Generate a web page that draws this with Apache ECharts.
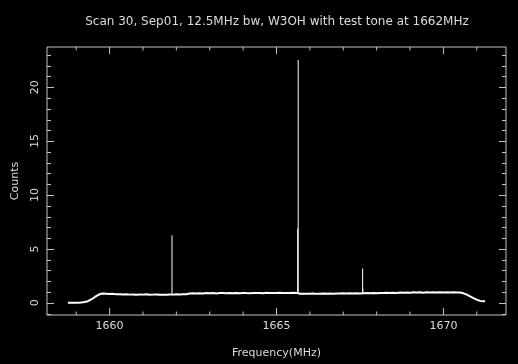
<!DOCTYPE html>
<html>
<head>
<meta charset="utf-8">
<script src="https://cdn.jsdelivr.net/npm/echarts@6/dist/echarts.min.js"></script>
<style>
  html, body { margin: 0; padding: 0; background: #000; }
  #chart { width: 518px; height: 364px; }
</style>
</head>
<body>
<div id="chart"></div>
<script>
// spectrum baseline (MHz, counts)
var freq = [
  1658.75, 1658.85, 1658.95, 1659.05, 1659.15, 1659.25, 1659.35, 1659.45, 1659.55, 1659.65, 1659.72, 1659.80,
  1659.9, 1660.0, 1660.1, 1660.2, 1660.3, 1660.4, 1660.5, 1660.6, 1660.7, 1660.8, 1660.9,
  1661.0, 1661.1, 1661.2, 1661.3, 1661.4, 1661.5, 1661.6, 1661.7, 1661.8, 1661.9,
  1662.0, 1662.1, 1662.2, 1662.3, 1662.4, 1662.5, 1662.6, 1662.7, 1662.8, 1662.9,
  1663.0, 1663.1, 1663.2, 1663.3, 1663.4, 1663.5, 1663.6, 1663.7, 1663.8, 1663.9,
  1664.0, 1664.1, 1664.2, 1664.3, 1664.4, 1664.5, 1664.6, 1664.7, 1664.8, 1664.9,
  1665.0, 1665.1, 1665.2, 1665.3, 1665.4, 1665.5, 1665.6, 1665.7, 1665.8, 1665.9,
  1666.0, 1666.1, 1666.2, 1666.3, 1666.4, 1666.5, 1666.6, 1666.7, 1666.8, 1666.9,
  1667.0, 1667.1, 1667.2, 1667.3, 1667.4, 1667.5, 1667.6, 1667.7, 1667.8, 1667.9,
  1668.0, 1668.1, 1668.2, 1668.3, 1668.4, 1668.5, 1668.6, 1668.7, 1668.8, 1668.9,
  1669.0, 1669.1, 1669.2, 1669.3, 1669.4, 1669.5, 1669.6, 1669.7, 1669.8, 1669.9,
  1670.0, 1670.1, 1670.2, 1670.3, 1670.4, 1670.5,
  1670.6, 1670.7, 1670.8, 1670.9, 1671.0, 1671.1, 1671.18, 1671.25
];
var counts = [
  0.00, 0.00, 0.01, 0.01, 0.03, 0.07, 0.15, 0.31, 0.52, 0.72, 0.82, 0.86,
  0.84, 0.81, 0.83, 0.79, 0.80, 0.78, 0.80, 0.76, 0.78, 0.75, 0.77,
  0.76, 0.79, 0.74, 0.76, 0.77, 0.74, 0.76, 0.75, 0.77, 0.76,
  0.79, 0.78, 0.80, 0.79, 0.86, 0.88, 0.86, 0.89, 0.87, 0.90,
  0.88, 0.91, 0.87, 0.90, 0.92, 0.88, 0.90, 0.89, 0.91, 0.88,
  0.92, 0.90, 0.89, 0.92, 0.90, 0.91, 0.89, 0.93, 0.90, 0.92,
  0.91, 0.93, 0.90, 0.92, 0.91, 0.93, 0.92, 0.84, 0.83, 0.85,
  0.84, 0.86, 0.83, 0.85, 0.87, 0.84, 0.86, 0.85, 0.87, 0.86,
  0.88, 0.86, 0.89, 0.87, 0.88, 0.86, 0.88, 0.90, 0.88, 0.91,
  0.89, 0.92, 0.90, 0.93, 0.91, 0.94, 0.92, 0.95, 0.93, 0.96,
  0.94, 0.97, 0.95, 0.97, 0.94, 0.98, 0.96, 0.97, 0.95, 0.98,
  0.96, 0.97, 0.95, 0.97, 0.96, 0.95,
  0.88, 0.76, 0.60, 0.44, 0.29, 0.18, 0.15, 0.15
];
// narrow lines (test tone and others)
var spikeFreq = [1661.87, 1665.635, 1665.65, 1667.58, 1667.585];
var spikeTop  = [6.26, 6.88, 22.53, 3.18, 1.32];
var spikeBase = [0.76, 0.92, 0.92, 0.88, 0.88];

// ticks
var xMajor = [1660, 1665, 1670];
var xMinor = [1659, 1661, 1662, 1663, 1664, 1666, 1667, 1668, 1669, 1671];
var yMajor = [0, 5, 10, 15, 20];
var yMinor = [-1, 1, 2, 3, 4, 6, 7, 8, 9, 11, 12, 13, 14, 16, 17, 18, 19, 21, 22, 23];

var FONT = 'DejaVu Sans';
var TXT = '#dcdcdc';
var FRAME = '#c4c4c4';
var X_MIN = 1658.125, X_MAX = 1671.875;
var Y_MIN = -1.13, Y_MAX = 23.73;
var PLOT_H = 269;

var chart = echarts.init(document.getElementById('chart'));

var series = [{
  type: 'line',
  data: freq.map(function (f, i) { return [f, counts[i]]; }),
  showSymbol: false,
  lineStyle: { color: '#fff', width: 2 },
  animation: false
}];
spikeFreq.forEach(function (f, i) {
  series.push({
    type: 'line',
    data: [[f, spikeBase[i]], [f, spikeTop[i]]],
    showSymbol: false,
    lineStyle: { color: '#fff', width: 1 },
    animation: false
  });
});

// x ticks (bottom and top, pointing inward) as short line series
function xTick(v, lenPx) {
  var d = lenPx * (Y_MAX - Y_MIN) / PLOT_H;
  [[Y_MIN, Y_MIN + d], [Y_MAX, Y_MAX - d]].forEach(function (ends) {
    series.push({
      type: 'line', silent: true, animation: false, showSymbol: false, clip: false,
      data: [[v, ends[0]], [v, ends[1]]],
      lineStyle: { color: FRAME, width: 1 }
    });
  });
}
xMajor.forEach(function (v) { xTick(v, 7); });
xMinor.forEach(function (v) { xTick(v, 3.5); });

// y ticks (left and right, pointing inward)
var yTickData = [];
yMajor.forEach(function (v) { yTickData.push([X_MIN, v, 7]); });
yMinor.forEach(function (v) { yTickData.push([X_MIN, v, 4]); });

function crisp(p) { return Math.round(p) + 0.5; }

series.push({
  type: 'custom', clip: false, silent: true, animation: false,
  data: yTickData,
  renderItem: function (params, api) {
    var len = api.value(2);
    var a = api.coord([X_MIN, api.value(1)]);
    var b = api.coord([X_MAX, api.value(1)]);
    var y = crisp(a[1]);
    return { type: 'group', children: [
      { type: 'line', shape: { x1: a[0], y1: y, x2: a[0] + len, y2: y }, style: { stroke: FRAME, lineWidth: 1 } },
      { type: 'line', shape: { x1: b[0], y1: y, x2: b[0] - len, y2: y }, style: { stroke: FRAME, lineWidth: 1 } }
    ] };
  }
});

function fmt(v) { return String(v); }

chart.setOption({
  backgroundColor: '#000',
  animation: false,
  title: {
    text: 'Scan 30, Sep01, 12.5MHz bw, W3OH with test tone at 1662MHz',
    left: 272, top: 11, textAlign: 'center',
    textStyle: { color: TXT, fontFamily: FONT, fontSize: 12, fontWeight: 'normal' }
  },
  grid: {
    left: 47, top: 47, width: 459, height: PLOT_H,
    show: true, borderColor: FRAME, borderWidth: 1, backgroundColor: 'transparent'
  },
  xAxis: {
    type: 'value', min: X_MIN, max: X_MAX,
    axisLine: { show: false, onZero: false },
    axisTick: { show: false },
    splitLine: { show: false },
    axisLabel: { customValues: xMajor, formatter: fmt, color: TXT, fontFamily: FONT, fontSize: 11, margin: 6 },
    name: 'Frequency(MHz)', nameLocation: 'middle', nameGap: 33,
    nameTextStyle: { color: TXT, fontFamily: FONT, fontSize: 11 }
  },
  yAxis: {
    type: 'value', min: Y_MIN, max: Y_MAX,
    axisLine: { show: false, onZero: false },
    axisTick: { show: false },
    splitLine: { show: false },
    axisLabel: { customValues: yMajor, formatter: fmt, rotate: 90, color: TXT, fontFamily: FONT, fontSize: 11, margin: 6 },
    name: 'Counts', nameLocation: 'middle', nameGap: 26,
    nameTextStyle: { color: TXT, fontFamily: FONT, fontSize: 11 }
  },
  series: series
});
</script>
</body>
</html>
